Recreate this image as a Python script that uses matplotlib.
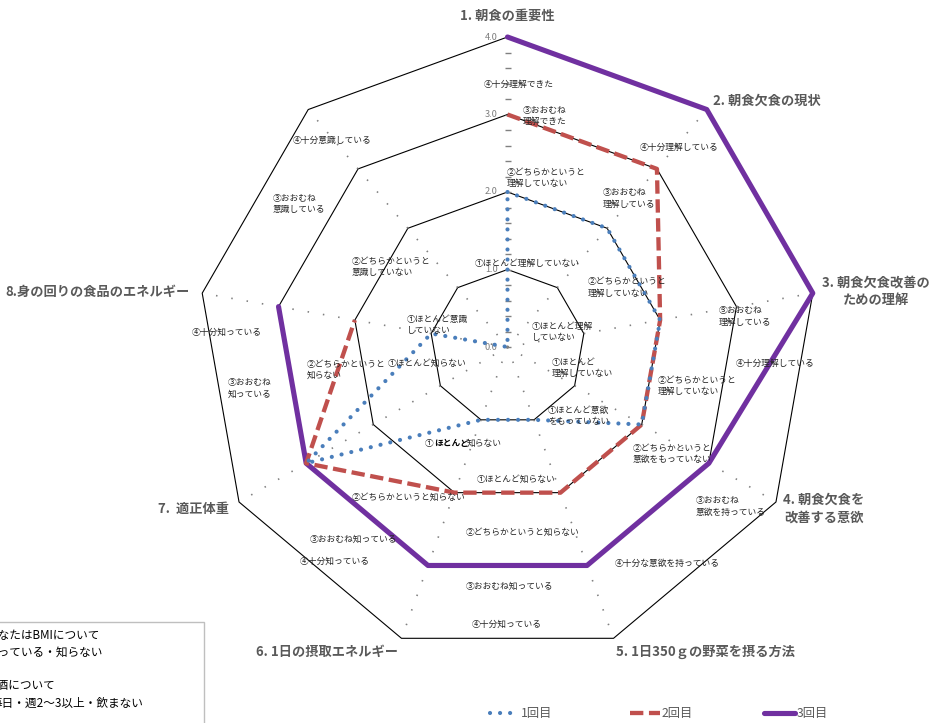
import numpy as np
import matplotlib
matplotlib.use("Agg")
import matplotlib.pyplot as plt
from matplotlib.lines import Line2D
from matplotlib.patches import Rectangle

plt.rcParams['font.family'] = ['Noto Sans CJK JP', 'DejaVu Sans']

# ---- data -------------------------------------------------------------
categories = ["1. 朝食の重要性", "2. 朝食欠食の現状", "3. 朝食欠食改善のための理解",
              "4. 朝食欠食を改善する意欲", "5. 1日350ｇの野菜を摂る方法",
              "6. 1日の摂取エネルギー", "7. 適正体重", "8.身の回りの食品のエネルギー", ""]
series_names = ["1回目", "2回目", "3回目"]
round1 = [2.0, 2.0, 2.0, 2.0, 1.0, 1.0, 3.0, 1.0, 0.0]
round2 = [3.0, 3.0, 2.0, 2.0, 2.0, 2.0, 3.0, 2.0, np.nan]
round3 = [4.0, 4.0, 4.0, 3.0, 3.0, 3.0, 3.0, 3.0, np.nan]
ring_values = [1.0, 2.0, 3.0, 4.0]
tick_values = [0.0, 1.0, 2.0, 3.0, 4.0]

W, H = 931, 723
fig = plt.figure(figsize=(W / 100, H / 100), dpi=100)


def fx(x):
    return x / W


def fy(y):
    return 1 - y / H


# polar axes: centre (507.5, 347), radius 310 px for 4.0
cx, cy, R = 507.5, 347.0, 310.0
ax = fig.add_axes([fx(cx - R), fy(cy + R), 2 * R / W, 2 * R / H], projection='polar')
ax.set_theta_zero_location('N')
ax.set_theta_direction(-1)
ax.set_ylim(0, 4)
ax.axis('off')

n = len(categories)
theta = np.arange(n) * 2 * np.pi / n
theta_closed = np.append(theta, theta[0])

# polygon rings
for rv in ring_values:
    ax.plot(theta_closed, [rv] * (n + 1), color='black', lw=0.8, zorder=1, clip_on=False)

# dotted spokes
for t in theta[1:]:
    ax.plot([t, t], [0, 4], color='#808080', lw=1.2, linestyle=(0, (0.9, 8.4)),
            zorder=1, clip_on=False)
# value axis tick marks
minor = np.arange(0, 4.01, 0.2)
ax.plot([0] * len(minor), minor, linestyle='none', marker='_', markersize=4,
        color='#808080', zorder=1, clip_on=False)
for tv in tick_values:
    ax.annotate(f"{tv:.1f}", xy=(0, tv), xytext=(-10, 0), textcoords='offset pixels',
                ha='right', va='center', fontsize=6.6, color='#7F7F7F', zorder=2)

# series
def closed(v):
    return np.append(v, v[0])

ax.plot(theta_closed, closed(round3), color='#7030A0', lw=3.7, zorder=3,
        clip_on=False, solid_capstyle='round', solid_joinstyle='round')
ax.plot(theta_closed, closed(round2), color='#C0504D', lw=3.1, zorder=4,
        linestyle=(0, (3.1, 1.3)), clip_on=False)
ax.plot(theta_closed, closed(round1), color='#4A7EBB', lw=3.0, zorder=5,
        linestyle=(0, (0.01, 2.4)), dash_capstyle='round', clip_on=False)

# ---- axis titles --------------------------------------------------------
title_kw = dict(fontsize=9.5, fontweight='bold', color='#595959', va='center')
fig.text(fx(507), fy(16), "1. 朝食の重要性", ha='center', **title_kw)
fig.text(fx(713), fy(101), "2. 朝食欠食の現状", ha='left', **title_kw)
fig.text(fx(876), fy(283), "3. 朝食欠食改善の", ha='center', **title_kw)
fig.text(fx(876), fy(300), "ための理解", ha='center', **title_kw)
fig.text(fx(824), fy(500), "4. 朝食欠食を", ha='center', **title_kw)
fig.text(fx(824), fy(518), "改善する意欲", ha='center', **title_kw)
fig.text(fx(705), fy(652), "5. 1日350ｇの野菜を摂る方法", ha='center', **title_kw)
fig.text(fx(327), fy(652), "6. 1日の摂取エネルギー", ha='center', **title_kw)
fig.text(fx(193), fy(509), "7.  適正体重", ha='center', **title_kw)
fig.text(fx(190), fy(292), "8.身の回りの食品のエネルギー", ha='right', **title_kw)

# ---- answer level labels ----------------------------------------------
level_labels = [
    (["④十分理解できた"], 484, 84),
    (["③おおむね", "理解できた"], 523, 110),
    (["②どちらかというと", "理解していない"], 507, 172),
    (["①ほとんど理解していない"], 475, 263),
    (["④十分理解している"], 640, 147),
    (["③おおむね", "理解している"], 603, 193),
    (["②どちらかというと", "理解していない"], 588, 282),
    (["①ほとんど理解", "していない"], 532, 326),
    (["③おおむね", "理解している"], 719, 311),
    (["④十分理解している"], 736, 363),
    (["②どちらかというと", "理解していない"], 658, 380),
    (["①ほとんど", "理解していない"], 552, 362),
    (["③おおむね", "意欲を持っている"], 696, 501),
    (["②どちらかというと", "意欲をもっていない"], 633, 448),
    (["①ほとんど意欲", "をもっていない"], 548, 410),
    (["④十分な意欲を持っている"], 615, 563),
    (["④十分知っている"], 472, 624),
    (["③おおむね知っている"], 466, 586),
    (["②どちらかというと知らない"], 466, 532),
    (["①ほとんど知らない"], 477, 479),
    (["④十分知っている"], 300, 561),
    (["③おおむね知っている"], 310, 539),
    (["②どちらかというと知らない"], 352, 497),
    (["④十分知っている"], 192, 332),
    (["③おおむね", "知っている"], 228, 383),
    (["②どちらかというと", "知らない"], 307, 364),
    (["①ほとんど知らない"], 388, 363),
    (["④十分意識している"], 293, 140),
    (["③おおむね", "意識している"], 273, 198),
    (["②どちらかというと", "意識していない"], 352, 261),
    (["①ほとんど意識", "していない"], 407, 319),
]
lvl_kw = dict(fontsize=6.3, color='#262626', ha='left', va='center', zorder=6)
for lines, x, y in level_labels:
    for i, line in enumerate(lines):
        fig.text(fx(x), fy(y + i * 11.5), line, **lvl_kw)

# label with emphasised part
fig.text(fx(425), fy(443), "①", **lvl_kw)
fig.text(fx(434), fy(443), "ほとんど", fontsize=6.3, color='black', fontweight='bold',
         ha='left', va='center')
fig.text(fx(467), fy(443), "知らない", **lvl_kw)

# ---- legend -------------------------------------------------------------
leg_y = fy(713)
legend_items = [
    (series_names[0], 490, 519, dict(color='#4A7EBB', lw=3.0, linestyle=(0, (0.01, 2.4)),
                                     dash_capstyle='round')),
    (series_names[1], 630, 660, dict(color='#C0504D', lw=3.1, linestyle=(0, (3.1, 1.3)))),
    (series_names[2], 764, 795, dict(color='#7030A0', lw=3.7, solid_capstyle='round')),
]
for name, x0, x1, style in legend_items:
    fig.add_artist(Line2D([fx(x0), fx(x1)], [leg_y, leg_y], transform=fig.transFigure, **style))
    fig.text(fx(x1 + 2), leg_y, name, fontsize=8.8, color='#595959', ha='left', va='center')

# ---- note box -----------------------------------------------------------
fig.add_artist(Rectangle((fx(-5), fy(740)), fx(209), fy(622) - fy(740),
                         transform=fig.transFigure, facecolor='none',
                         edgecolor='#BFBFBF', lw=1.0))
note_kw = dict(fontsize=8.4, color='black', ha='right', va='center')
fig.text(fx(100), fy(635), "あなたはBMIについて", **note_kw)
fig.text(fx(103), fy(652), "知っている・知らない", **note_kw)
fig.text(fx(56), fy(686), "飲酒について", **note_kw)
fig.text(fx(143), fy(703), "毎日・週2～3以上・飲まない", **note_kw)

fig.savefig("out.png", dpi=100)
